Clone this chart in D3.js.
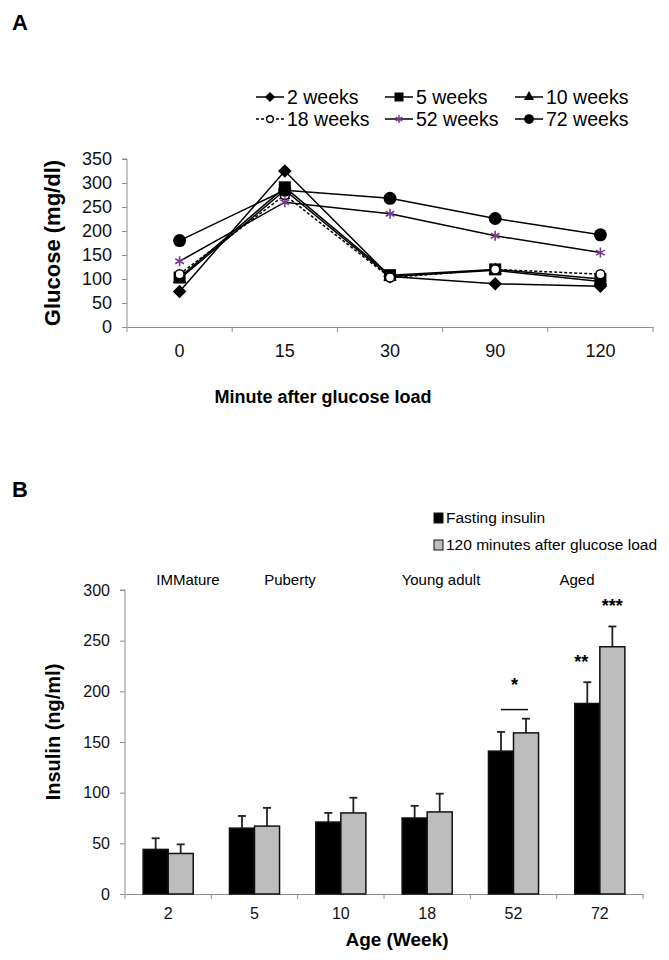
<!DOCTYPE html>
<html>
<head>
<meta charset="utf-8">
<script src="https://cdn.jsdelivr.net/npm/d3@7"></script>
<style>
  body { margin: 0; background: #fff; }
  svg { font-family: "Liberation Sans", Arial, sans-serif; }
</style>
</head>
<body>
<svg id="chart"></svg>
<script>
const w = 669;
const h = 960;

// panel A data
const minutes = ["0", "15", "30", "90", "120"];
const seriesNames = ["2 weeks", "5 weeks", "10 weeks", "18 weeks", "52 weeks", "72 weeks"];
const wk2 = [74, 325, 105, 90, 85];
const wk5 = [103, 291, 108, 120, 100];
const wk10 = [100, 285, 105, 118, 95];
const wk18 = [110, 275, 103, 120, 110];
const wk52 = [137, 260, 236, 190, 155];
const wk72 = [180, 285, 268, 226, 192];
const glucoseTicks = [0, 50, 100, 150, 200, 250, 300, 350];

// panel B data
const ages = ["2", "5", "10", "18", "52", "72"];
const stages = ["IMMature", "Puberty", "Young adult", "Aged"];
const fasting = [44, 65, 71, 75, 141, 188];
const fastingErr = [11, 12, 9, 12, 19, 21];
const after120 = [40, 67, 80, 81, 159, 244];
const after120Err = [9, 18, 15, 18, 14, 20];
const insulinTicks = [0, 50, 100, 150, 200, 250, 300];
const barNames = ["Fasting insulin", "120 minutes after glucose load"];

const axisColor = "#8c8c8c";
const purple = "#7b3a8e";

let svg = d3.select("#chart")
    .attr("width", w)
    .attr("height", h);

// ---------- Panel A ----------
svg.append("text")
    .attr("x", 12).attr("y", 30)
    .attr("font-size", "22px").attr("font-weight", "bold")
    .text("A");

const xA = d3.scaleBand()
    .domain(minutes)
    .range([127, 653]);
const yA = d3.scaleLinear()
    .domain([0, 350])
    .range([327, 159]);

// y axis
const gyA = svg.append("g")
    .attr("transform", "translate(127,0)")
    .call(d3.axisLeft(yA).tickValues(glucoseTicks).tickSize(5).tickPadding(10));
// x axis: labels in the bands, ticks on the band edges
const gxA = svg.append("g")
    .attr("transform", "translate(0,327)")
    .call(d3.axisBottom(xA).tickSize(0).tickPadding(17));
gxA.selectAll(".tick line").remove();
minutes.concat([""]).forEach(function (d, i) {
    const xx = xA.range()[0] + i * xA.step();
    gxA.append("line")
        .attr("x1", xx).attr("x2", xx)
        .attr("y1", 0).attr("y2", 5)
        .attr("stroke", axisColor);
});
[gyA, gxA].forEach(function (g) {
    g.select(".domain").attr("stroke", axisColor);
    g.selectAll(".tick line").attr("stroke", axisColor);
    g.selectAll("text").attr("font-size", "18px").attr("fill", "#111")
        .attr("font-family", "Liberation Sans, Arial, sans-serif");
});
gyA.select(".domain").attr("d", "M-5,159H0V327");

svg.append("text")
    .attr("x", 323).attr("y", 403)
    .attr("text-anchor", "middle")
    .attr("font-size", "18px").attr("font-weight", "bold")
    .text("Minute after glucose load");
svg.append("text")
    .attr("transform", "rotate(-90)")
    .attr("x", -243).attr("y", 60)
    .attr("text-anchor", "middle")
    .attr("font-size", "22px").attr("font-weight", "bold")
    .text("Glucose (mg/dl)");

const seriesA = [
    { name: seriesNames[0], values: wk2, marker: "diamond", dash: null },
    { name: seriesNames[1], values: wk5, marker: "square", dash: null },
    { name: seriesNames[2], values: wk10, marker: "triangle", dash: null },
    { name: seriesNames[3], values: wk18, marker: "open", dash: "3,2" },
    { name: seriesNames[4], values: wk52, marker: "star", dash: null },
    { name: seriesNames[5], values: wk72, marker: "circle", dash: null }
];

function drawMarker(g, type, cx, cy, scale) {
    const s = scale || 1;
    if (type === "diamond") {
        g.append("rect")
            .attr("x", -4.8 * s).attr("y", -4.8 * s)
            .attr("width", 9.6 * s).attr("height", 9.6 * s)
            .attr("transform", "translate(" + cx + "," + cy + ") rotate(45)")
            .attr("fill", "#000");
    } else if (type === "square") {
        g.append("rect")
            .attr("x", cx - 6 * s).attr("y", cy - 6 * s)
            .attr("width", 12 * s).attr("height", 12 * s)
            .attr("fill", "#000");
    } else if (type === "triangle") {
        g.append("path")
            .attr("d", d3.symbol(d3.symbolTriangle, 80 * s * s)())
            .attr("transform", "translate(" + cx + "," + cy + ")")
            .attr("fill", "#000");
    } else if (type === "open") {
        g.append("circle")
            .attr("cx", cx).attr("cy", cy).attr("r", 4.5 * s)
            .attr("fill", "#fff").attr("stroke", "#000").attr("stroke-width", 1.5);
    } else if (type === "star") {
        g.append("path")
            .attr("d", d3.symbol(d3.symbolAsterisk, 70 * s * s)())
            .attr("transform", "translate(" + cx + "," + cy + ")")
            .attr("fill", "none").attr("stroke", purple).attr("stroke-width", 1.6);
    } else if (type === "circle") {
        g.append("circle")
            .attr("cx", cx).attr("cy", cy).attr("r", 6.5 * s)
            .attr("fill", "#000");
    }
}

const line = d3.line()
    .x(function (d, i) { return xA(minutes[i]) + xA.bandwidth() / 2; })
    .y(function (d) { return yA(d); });

const plotA = svg.append("g");
seriesA.forEach(function (s) {
    plotA.append("path")
        .datum(s.values)
        .attr("d", line)
        .attr("fill", "none")
        .attr("stroke", "#000")
        .attr("stroke-width", 1.5)
        .attr("stroke-dasharray", s.dash);
});
seriesA.forEach(function (s) {
    s.values.forEach(function (v, i) {
        drawMarker(plotA, s.marker, xA(minutes[i]) + xA.bandwidth() / 2, yA(v));
    });
});

// legend A
const legCols = [256, 385, 515];
const legRows = [97, 119];
seriesA.forEach(function (s, i) {
    const lx = legCols[i % 3];
    const ly = legRows[Math.floor(i / 3)];
    const g = svg.append("g");
    g.append("line")
        .attr("x1", lx).attr("x2", lx + 28)
        .attr("y1", ly).attr("y2", ly)
        .attr("stroke", "#000").attr("stroke-width", 1.5)
        .attr("stroke-dasharray", s.dash);
    drawMarker(g, s.marker, lx + 14, ly, 0.75);
    g.append("text")
        .attr("x", lx + 31).attr("y", ly + 7)
        .attr("font-size", "19.5px")
        .text(s.name);
});

// ---------- Panel B ----------
svg.append("text")
    .attr("x", 12).attr("y", 497)
    .attr("font-size", "22px").attr("font-weight", "bold")
    .text("B");

const x0 = d3.scaleBand()
    .domain(ages)
    .range([125, 643]);
const groupW = x0.bandwidth() * 0.58;
const x1 = d3.scaleBand()
    .domain(["fasting", "after"])
    .range([0, groupW]);
const yB = d3.scaleLinear()
    .domain([0, 300])
    .range([894, 590]);

const gyB = svg.append("g")
    .attr("transform", "translate(125,0)")
    .call(d3.axisLeft(yB).tickValues(insulinTicks).tickSize(5).tickPadding(10));
const gxB = svg.append("g")
    .attr("transform", "translate(0,894)")
    .call(d3.axisBottom(x0).tickSize(0).tickPadding(14));
ages.concat([""]).forEach(function (d, i) {
    const xx = x0.range()[0] + i * x0.step();
    gxB.append("line")
        .attr("x1", xx).attr("x2", xx)
        .attr("y1", 0).attr("y2", 5)
        .attr("stroke", axisColor);
});
[gyB, gxB].forEach(function (g) {
    g.select(".domain").attr("stroke", axisColor);
    g.selectAll(".tick line").attr("stroke", axisColor);
    g.selectAll("text").attr("font-size", "16px").attr("fill", "#111")
        .attr("font-family", "Liberation Sans, Arial, sans-serif");
});
gyB.select(".domain").attr("d", "M-5,590H0V894");

const barsB = [
    { key: "fasting", values: fasting, err: fastingErr, fill: "#000" },
    { key: "after", values: after120, err: after120Err, fill: "#bdbdbd" }
];
const plotB = svg.append("g");
barsB.forEach(function (b) {
    b.values.forEach(function (v, i) {
        const bx = x0(ages[i]) + (x0.bandwidth() - groupW) / 2 + x1(b.key);
        const cx = bx + x1.bandwidth() / 2;
        // error bar
        plotB.append("line")
            .attr("x1", cx).attr("x2", cx)
            .attr("y1", yB(v)).attr("y2", yB(v + b.err[i]))
            .attr("stroke", "#222").attr("stroke-width", 1.8);
        plotB.append("line")
            .attr("x1", cx - 4).attr("x2", cx + 4)
            .attr("y1", yB(v + b.err[i])).attr("y2", yB(v + b.err[i]))
            .attr("stroke", "#222").attr("stroke-width", 1.8);
        plotB.append("rect")
            .attr("x", bx).attr("y", yB(v))
            .attr("width", x1.bandwidth())
            .attr("height", yB(0) - yB(v))
            .attr("fill", b.fill)
            .attr("stroke", "#111").attr("stroke-width", 1.5);
    });
});

// significance marks
const i52 = ages.indexOf("52");
const i72 = ages.indexOf("72");
function barCenter(key, i) {
    return x0(ages[i]) + (x0.bandwidth() - groupW) / 2 + x1(key) + x1.bandwidth() / 2;
}
plotB.append("line")
    .attr("x1", barCenter("fasting", i52)).attr("x2", barCenter("after", i52) + 2)
    .attr("y1", yB(182)).attr("y2", yB(182))
    .attr("stroke", "#111").attr("stroke-width", 1.5);
plotB.append("text")
    .attr("x", (barCenter("fasting", i52) + barCenter("after", i52)) / 2 + 1)
    .attr("y", yB(200))
    .attr("text-anchor", "middle").attr("font-size", "18px").attr("font-weight", "bold")
    .text("*");
plotB.append("text")
    .attr("x", barCenter("fasting", i72) - 6)
    .attr("y", yB(223))
    .attr("text-anchor", "middle").attr("font-size", "18px").attr("font-weight", "bold")
    .text("**");
plotB.append("text")
    .attr("x", barCenter("after", i72))
    .attr("y", yB(278))
    .attr("text-anchor", "middle").attr("font-size", "18px").attr("font-weight", "bold")
    .text("***");

// stage labels
const stageX = [188, 290, 441, 577];
stages.forEach(function (s, i) {
    svg.append("text")
        .attr("x", stageX[i]).attr("y", 585)
        .attr("text-anchor", "middle")
        .attr("font-size", "15px")
        .text(s);
});

// legend B
barNames.forEach(function (n, i) {
    const ly = [518, 545][i];
    svg.append("rect")
        .attr("x", 434).attr("y", ly - 5)
        .attr("width", 9).attr("height", 10)
        .attr("fill", barsB[i].fill)
        .attr("stroke", "#111").attr("stroke-width", 1);
    svg.append("text")
        .attr("x", 446).attr("y", ly + 5)
        .attr("font-size", "15.5px")
        .text(n);
});

svg.append("text")
    .attr("x", 397).attr("y", 946)
    .attr("text-anchor", "middle")
    .attr("font-size", "19px").attr("font-weight", "bold")
    .text("Age (Week)");
svg.append("text")
    .attr("transform", "rotate(-90)")
    .attr("x", -732).attr("y", 60)
    .attr("text-anchor", "middle")
    .attr("font-size", "20px").attr("font-weight", "bold")
    .text("Insulin (ng/ml)");
</script>
</body>
</html>
